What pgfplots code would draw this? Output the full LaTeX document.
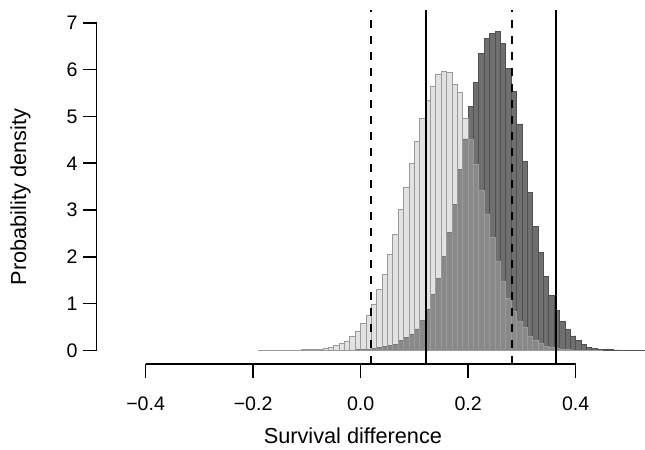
\documentclass[border=0pt]{standalone}
\usepackage{fontspec}
\setmainfont{Liberation Sans}
\usepackage{pgfplots}
\usepackage{pgfplotstable}
\pgfplotsset{compat=1.18}

\definecolor{darkbar}{HTML}{6F6F6F}
\definecolor{darkedge}{HTML}{505050}
\definecolor{lightbar}{HTML}{B4B4B4}
\definecolor{lightedge}{HTML}{9A9A9A}

% left bin edge, density (bin width 0.01); last row closes the interval
\pgfplotstableread{
x y
-0.19 0.003
-0.18 0.003
-0.17 0.004
-0.16 0.004
-0.15 0.005
-0.14 0.006
-0.13 0.008
-0.12 0.010
-0.11 0.012
-0.10 0.015
-0.09 0.020
-0.08 0.030
-0.07 0.040
-0.06 0.060
-0.05 0.100
-0.04 0.140
-0.03 0.200
-0.02 0.300
-0.01 0.410
0.00 0.570
0.01 0.750
0.02 0.980
0.03 1.300
0.04 1.620
0.05 2.050
0.06 2.480
0.07 3.020
0.08 3.490
0.09 3.990
0.10 4.470
0.11 4.960
0.12 5.340
0.13 5.650
0.14 5.910
0.15 5.960
0.16 5.940
0.17 5.690
0.18 5.510
0.19 4.960
0.20 4.520
0.21 3.980
0.22 3.420
0.23 2.910
0.24 2.410
0.25 1.910
0.26 1.480
0.27 1.110
0.28 0.830
0.29 0.610
0.30 0.490
0.31 0.300
0.32 0.210
0.33 0.140
0.34 0.090
0.35 0.060
0.36 0.040
0.37 0.030
0.38 0.020
0.39 0.010
0.40 0.008
0.41 0.005
0.42 0.003
0.43 0.002
0.44 0.002
0.45 0
}\lightdata

\pgfplotstableread{
x y
-0.05 0.003
-0.04 0.005
-0.03 0.007
-0.02 0.010
-0.01 0.012
0.00 0.018
0.01 0.025
0.02 0.040
0.03 0.060
0.04 0.090
0.05 0.110
0.06 0.130
0.07 0.210
0.08 0.270
0.09 0.340
0.10 0.460
0.11 0.640
0.12 0.870
0.13 1.190
0.14 1.530
0.15 2.000
0.16 2.520
0.17 3.120
0.18 3.870
0.19 4.520
0.20 5.220
0.21 5.730
0.22 6.350
0.23 6.670
0.24 6.780
0.25 6.810
0.26 6.560
0.27 6.030
0.28 5.530
0.29 4.840
0.30 4.030
0.31 3.370
0.32 2.650
0.33 2.100
0.34 1.580
0.35 1.180
0.36 0.860
0.37 0.610
0.38 0.450
0.39 0.310
0.40 0.210
0.41 0.130
0.42 0.070
0.43 0.045
0.44 0.030
0.45 0.020
0.46 0.015
0.47 0.010
0.48 0.008
0.49 0.006
0.50 0.005
0.51 0.004
0.52 0.003
0.53 0
}\darkdata

\begin{document}
\begin{tikzpicture}
\begin{axis}[
  scale only axis,
  width=274.15pt, height=177.1pt,
  xmin=-0.491, xmax=0.529, ymin=-0.29, ymax=7.28,
  clip mode=individual,
  axis x line*=bottom, axis y line*=left,
  axis line style={draw=none},
  tick align=outside,
  major tick length=6.8pt,
  tick style={black, line width=0.8pt},
  xtick={-0.4,-0.2,0,0.2,0.4},
  xticklabels={−0.4,−0.2,0.0,0.2,0.4},
  ytick={0,1,2,3,4,5,6,7},
  yticklabels={0,1,2,3,4,5,6,7},
  xticklabel style={font=\fontsize{9.8}{11}\selectfont, inner sep=0pt, anchor=north, yshift=-9.5pt},
  yticklabel style={font=\fontsize{9.8}{11}\selectfont, inner sep=0pt, anchor=east, xshift=-2.6pt},
]
\addplot[ybar interval, fill=darkbar, draw=darkedge, line width=0.4pt] table {\darkdata};
\addplot[ybar interval, fill=lightbar, fill opacity=0.39, draw=lightedge, line width=0.4pt] table {\lightdata};

\addplot[black, line width=1pt, dash pattern=on 4pt off 4pt] coordinates {(0.0190,-0.29) (0.0190,7.28)};
\addplot[black, line width=1pt] coordinates {(0.1207,-0.29) (0.1207,7.28)};
\addplot[black, line width=1pt, dash pattern=on 4pt off 4pt] coordinates {(0.2813,-0.29) (0.2813,7.28)};
\addplot[black, line width=1pt] coordinates {(0.3630,-0.29) (0.3630,7.28)};

\draw[black, line width=0.8pt] (axis cs:-0.4,-0.29) -- (axis cs:0.4,-0.29);
\draw[black, line width=0.8pt] (axis cs:-0.491,0) -- (axis cs:-0.491,7);

\node[font=\fontsize{10.85}{13}\selectfont, anchor=center]
  at ([yshift=-36pt]axis description cs:0.4673,0) {Survival difference};
\node[font=\fontsize{10.85}{13}\selectfont, anchor=center, rotate=90]
  at ([xshift=-38.1pt]axis description cs:0,0.4712) {Probability density};

\coordinate (bl) at (rel axis cs:0,0);
\coordinate (tr) at (rel axis cs:1,1);
\end{axis}
\pgfresetboundingbox
\path ([shift={(-48.35pt,-42.5pt)}]bl) rectangle ([shift={(0pt,4.9pt)}]tr);
\end{tikzpicture}
\end{document}
